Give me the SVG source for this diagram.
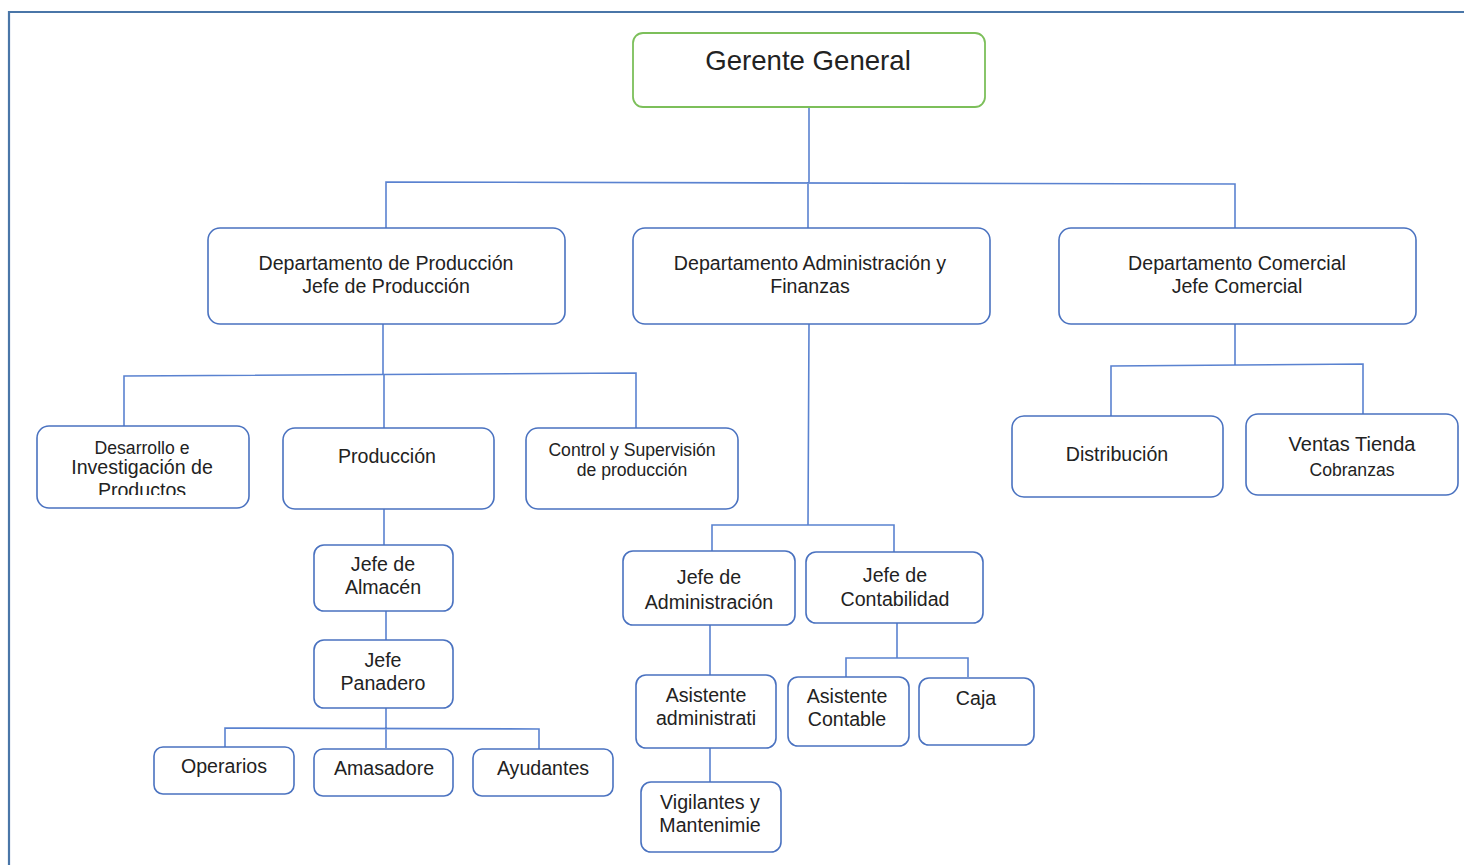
<svg xmlns="http://www.w3.org/2000/svg" width="1464" height="865" viewBox="0 0 1464 865">
<style>
.box{fill:#fff;stroke:#4a72c0;stroke-width:1.6}
.top{fill:#fff;stroke:#7cbf5a;stroke-width:1.8}
.ln{fill:none;stroke:#5a82d0;stroke-width:1.6}
text{font-family:"Liberation Sans",Arial,sans-serif;fill:#222;text-anchor:middle;dominant-baseline:central}
.t18{font-size:19.6px}
.t16{font-size:17.6px}
</style>
<defs>
<clipPath id="cDes"><rect x="37" y="426" width="212" height="69"/></clipPath>
</defs>
<rect width="1464" height="865" fill="#fff"/>
<path d="M9,865 V12 H1464" fill="none" stroke="#4a76a8" stroke-width="2.2"/>
<g id="connectors">
<path class="ln" d="M809,107 V182 M386,228 V182 L1235,184 V228 M808,182 V228"/>
<path class="ln" d="M383,324 V374 M124,426 V376 L636,373 V428 M384,374 V428"/>
<path class="ln" d="M384,509 V545 M386,611 V640 M386,708 V748 M225,747 V728 L539,729 V749"/>
<path class="ln" d="M809,324 L808,525 M712,551 V525 H894 V552 M710,625 V675 M710,748 V782 M897,623 V658 M846,677 V658 H968 V677"/>
<path class="ln" d="M1235,324 V365 M1111,416 V366 L1363,364 V414"/>
</g>
<g id="n-gerente"><rect class="top" x="633" y="33" width="352" height="74" rx="10"/><text x="808" y="60" style="font-size:27.6px">Gerente General</text></g>
<g id="n-prod-dept"><rect class="box" x="208" y="228" width="357" height="96" rx="12"/><text class="t18" x="386" y="263">Departamento de Producción</text><text class="t18" x="386" y="286">Jefe de Producción</text></g>
<g id="n-admin-dept"><rect class="box" x="633" y="228" width="357" height="96" rx="12"/><text class="t18" x="810" y="263">Departamento Administración y</text><text class="t18" x="810" y="286">Finanzas</text></g>
<g id="n-com-dept"><rect class="box" x="1059" y="228" width="357" height="96" rx="12"/><text class="t18" x="1237" y="263">Departamento Comercial</text><text class="t18" x="1237" y="286">Jefe Comercial</text></g>
<g id="n-desarrollo"><rect class="box" x="37" y="426" width="212" height="82" rx="12"/><g clip-path="url(#cDes)"><text class="t16" x="142" y="448">Desarrollo e</text><text class="t18" x="142" y="467">Investigación de</text><text class="t18" x="142" y="490">Productos</text></g></g>
<g id="n-produccion"><rect class="box" x="283" y="428" width="211" height="81" rx="12"/><text class="t18" x="387" y="456">Producción</text></g>
<g id="n-control"><rect class="box" x="526" y="428" width="212" height="81" rx="12"/><text class="t16" x="632" y="450">Control y Supervisión</text><text class="t16" x="632" y="470">de producción</text></g>
<g id="n-almacen"><rect class="box" x="314" y="545" width="139" height="66" rx="10"/><text class="t18" x="383" y="564">Jefe de</text><text class="t18" x="383" y="587">Almacén</text></g>
<g id="n-panadero"><rect class="box" x="314" y="640" width="139" height="68" rx="10"/><text class="t18" x="383" y="660">Jefe</text><text class="t18" x="383" y="683">Panadero</text></g>
<g id="n-operarios"><rect class="box" x="154" y="747" width="140" height="47" rx="9"/><text class="t18" x="224" y="766">Operarios</text></g>
<g id="n-amasadore"><rect class="box" x="314" y="749" width="139" height="47" rx="9"/><text class="t18" x="384" y="768">Amasadore</text></g>
<g id="n-ayudantes"><rect class="box" x="473" y="749" width="140" height="47" rx="9"/><text class="t18" x="543" y="768">Ayudantes</text></g>
<g id="n-jefe-admin"><rect class="box" x="623" y="551" width="172" height="74" rx="10"/><text class="t18" x="709" y="577">Jefe de</text><text class="t18" x="709" y="602">Administración</text></g>
<g id="n-jefe-cont"><rect class="box" x="806" y="552" width="177" height="71" rx="10"/><text class="t18" x="895" y="575">Jefe de</text><text class="t18" x="895" y="599">Contabilidad</text></g>
<g id="n-asist-admin"><rect class="box" x="636" y="675" width="140" height="73" rx="10"/><text class="t18" x="706" y="695">Asistente</text><text class="t18" x="706" y="718">administrati</text></g>
<g id="n-vigilantes"><rect class="box" x="641" y="782" width="140" height="70" rx="10"/><text class="t18" x="710" y="802">Vigilantes y</text><text class="t18" x="710" y="825">Mantenimie</text></g>
<g id="n-asist-cont"><rect class="box" x="788" y="677" width="121" height="69" rx="10"/><text class="t18" x="847" y="696">Asistente</text><text class="t18" x="847" y="719">Contable</text></g>
<g id="n-caja"><rect class="box" x="919" y="678" width="115" height="67" rx="10"/><text class="t18" x="976" y="698">Caja</text></g>
<g id="n-distribucion"><rect class="box" x="1012" y="416" width="211" height="81" rx="12"/><text class="t18" x="1117" y="454">Distribución</text></g>
<g id="n-ventas"><rect class="box" x="1246" y="414" width="212" height="81" rx="12"/><text x="1352" y="444" style="font-size:20px">Ventas Tienda</text><text class="t16" x="1352" y="470">Cobranzas</text></g>
</svg>
